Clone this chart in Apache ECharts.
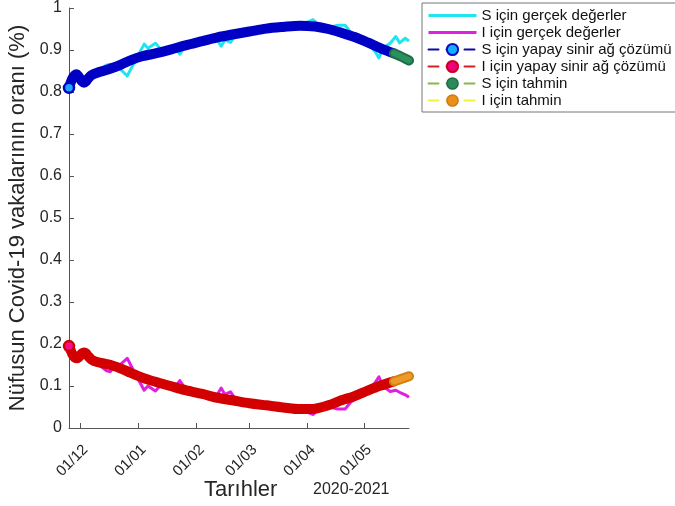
<!DOCTYPE html>
<html><head><meta charset="utf-8">
<script src="https://cdn.jsdelivr.net/npm/echarts@6/dist/echarts.min.js"></script>
<style>html,body{margin:0;padding:0;background:#fff}#c{width:675px;height:506px}</style>
</head><body><div id="c"></div>
<script>
// ---- axis domain (daily dates) ----
const firstDay = '2020-11-25';
const lastDay = '2021-05-25';
const categories = [];
(function () {
  let t = Date.parse(firstDay + 'T00:00:00Z');
  const e = Date.parse(lastDay + 'T00:00:00Z');
  while (t <= e) { categories.push(new Date(t).toISOString().slice(0, 10)); t += 86400000; }
})();

// ---- tick labels ----
const tickDates = ['2020-12-01', '2021-01-01', '2021-02-01', '2021-03-01', '2021-04-01', '2021-05-01'];
const tickLabels = ['01/12', '01/01', '01/02', '01/03', '01/04', '01/05'];
const yTicks = [0, 0.1, 0.2, 0.3, 0.4, 0.5, 0.6, 0.7, 0.8, 0.9, 1];

// ---- real data (S and I) ----
const realDates = ['2020-11-25','2020-11-28','2020-12-01','2020-12-04','2020-12-07','2020-12-10','2020-12-15','2020-12-17','2020-12-19','2020-12-22','2020-12-26','2020-12-29','2021-01-01','2021-01-04','2021-01-06','2021-01-08','2021-01-10','2021-01-13','2021-01-16','2021-01-20','2021-01-23','2021-01-25','2021-01-29','2021-02-03','2021-02-08','2021-02-12','2021-02-14','2021-02-16','2021-02-19','2021-02-22','2021-03-01','2021-03-08','2021-03-15','2021-03-22','2021-03-29','2021-04-04','2021-04-07','2021-04-11','2021-04-17','2021-04-21','2021-04-24','2021-04-28','2021-05-01','2021-05-04','2021-05-07','2021-05-09','2021-05-11','2021-05-15','2021-05-18','2021-05-20','2021-05-23','2021-05-25'];
const sReal = [0.811,0.839,0.830,0.828,0.842,0.850,0.864,0.866,0.856,0.856,0.838,0.864,0.889,0.914,0.904,0.910,0.916,0.901,0.904,0.909,0.890,0.904,0.917,0.922,0.927,0.924,0.909,0.924,0.918,0.938,0.946,0.950,0.954,0.958,0.961,0.972,0.958,0.952,0.959,0.959,0.942,0.932,0.924,0.912,0.896,0.881,0.904,0.916,0.932,0.917,0.928,0.921];
const iReal = [0.193,0.168,0.174,0.176,0.160,0.154,0.136,0.134,0.148,0.150,0.166,0.140,0.115,0.090,0.100,0.094,0.088,0.103,0.100,0.095,0.113,0.100,0.087,0.082,0.077,0.080,0.095,0.080,0.086,0.066,0.058,0.054,0.050,0.046,0.043,0.032,0.046,0.052,0.045,0.045,0.062,0.072,0.080,0.092,0.108,0.122,0.100,0.087,0.090,0.085,0.079,0.073];

// ---- neural network solution ----
const nnDates = ['2020-11-25','2020-11-26','2020-11-27','2020-11-28','2020-11-29','2020-11-30','2020-12-01','2020-12-02','2020-12-03','2020-12-04','2020-12-05','2020-12-07','2020-12-10','2020-12-14','2020-12-18','2020-12-23','2020-12-28','2021-01-03','2021-01-10','2021-01-18','2021-01-26','2021-02-04','2021-02-12','2021-02-20','2021-03-01','2021-03-10','2021-03-19','2021-03-28','2021-04-05','2021-04-12','2021-04-19','2021-04-26','2021-05-03','2021-05-10','2021-05-17'];
const sNN = [0.810,0.824,0.834,0.840,0.842,0.838,0.831,0.825,0.822,0.825,0.831,0.840,0.846,0.851,0.857,0.866,0.876,0.885,0.892,0.901,0.911,0.921,0.930,0.937,0.944,0.951,0.955,0.958,0.956,0.950,0.941,0.931,0.918,0.904,0.892];
const iNN = [0.195,0.184,0.174,0.168,0.166,0.168,0.173,0.178,0.180,0.178,0.172,0.163,0.157,0.153,0.149,0.141,0.131,0.120,0.110,0.100,0.090,0.081,0.072,0.066,0.059,0.054,0.049,0.045,0.046,0.054,0.066,0.076,0.089,0.101,0.111];

// ---- prediction ----
const predDates = ['2021-05-17','2021-05-21','2021-05-25'];
const sPred = [0.892,0.884,0.875];
const iPred = [0.111,0.117,0.123];

const names = ['S için gerçek değerler','I için gerçek değerler','S için yapay sinir ağ çözümü','I için yapay sinir ağ çözümü','S için tahmin','I için tahmin'];

function pair(d, v) { return d.map((x, i) => [x, v[i]]); }
const FONT = "'Liberation Sans', Arial, Helvetica, sans-serif";
const showTick = (idx, val) => tickDates.indexOf(val) >= 0;

function band(name, dates, vals, color, w, z, startMark) {
  const data = pair(dates, vals);
  if (startMark) {
    data[0] = { value: data[0], symbolSize: 10, itemStyle: startMark };
  }
  return { name, type: 'line', data, symbol: 'circle', symbolSize: 0, showSymbol: !!startMark, showAllSymbol: true,
    smooth: 0.3, z,
    lineStyle: { color, width: w, cap: 'round', join: 'round' }, itemStyle: { color, borderWidth: 0 }, emphasis: { disabled: true }, silent: true };
}

const chart = echarts.init(document.getElementById('c'), null, { renderer: 'canvas' });
chart.setOption({
  animation: false,
  backgroundColor: '#fff',
  grid: { left: 69, right: 266, top: 8, bottom: 78, containLabel: false, outerBoundsMode: 'none' },
  xAxis: {
    type: 'category', data: categories, boundaryGap: false,
    axisLine: { lineStyle: { color: '#555', width: 1 } },
    axisTick: { inside: true, length: 5, interval: showTick, lineStyle: { color: '#555' } },
    axisLabel: { interval: showTick, rotate: 45, margin: 14, align: 'right', verticalAlign: 'top', fontSize: 15, fontFamily: FONT, color: '#262626',
      formatter: v => tickLabels[tickDates.indexOf(v)] },
    splitLine: { show: false }
  },
  yAxis: {
    type: 'value', min: yTicks[0], max: yTicks[yTicks.length - 1], interval: 0.1,
    name: 'Nüfusun Covid-19 vakalarının oranı (%)', nameLocation: 'middle', nameGap: 32, nameRotate: 90,
    nameTextStyle: { fontSize: 22, fontFamily: FONT, color: '#262626' },
    axisLine: { show: true, lineStyle: { color: '#555', width: 1 } },
    axisTick: { show: true, inside: true, length: 5, lineStyle: { color: '#555' } },
    axisLabel: { fontSize: 16, fontFamily: FONT, color: '#262626', margin: 7 },
    splitLine: { show: false }
  },
  legend: {
    orient: 'vertical', left: 422, top: 3, itemWidth: 48, itemHeight: 14, itemGap: 2,
    padding: [5, 8, 4, 5], backgroundColor: '#fff', borderColor: '#777', borderWidth: 1, borderRadius: 0,
    selectedMode: false,
    textStyle: { fontSize: 15, fontFamily: FONT, color: '#111' },
    data: [
      { name: names[0], lineStyle: { color: '#22e4f0', width: 3, type: 'solid' }, itemStyle: { color: 'rgba(0,0,0,0)', borderWidth: 0, opacity: 0 } },
      { name: names[1], lineStyle: { color: '#e020e0', width: 3, type: 'solid' }, itemStyle: { color: 'rgba(0,0,0,0)', borderWidth: 0, opacity: 0 } },
      { name: names[2], lineStyle: { color: '#0a0aa8', width: 2, type: [10, 8] }, itemStyle: { color: '#10b0ff', borderColor: '#0a0ac0', borderWidth: 2 } },
      { name: names[3], lineStyle: { color: '#d82020', width: 2, type: [10, 8] }, itemStyle: { color: '#f0007a', borderColor: '#c80020', borderWidth: 2 } },
      { name: names[4], lineStyle: { color: '#88b848', width: 2, type: [10, 8] }, itemStyle: { color: '#2a8a5a', borderColor: '#1e6e46', borderWidth: 1.5 } },
      { name: names[5], lineStyle: { color: '#f4f040', width: 2, type: [10, 8] }, itemStyle: { color: '#e8901e', borderColor: '#d07a10', borderWidth: 1.5 } }
    ]
  },
  graphic: [
    { type: 'text', left: 204, top: 479, style: { text: 'Tarıhler', font: '22px ' + FONT, fill: '#262626' } },
    { type: 'text', left: 313, top: 482, style: { text: '2020-2021', font: '16px ' + FONT, fill: '#262626' } }
  ],
  series: [
    { name: names[0], type: 'line', data: pair(realDates, sReal), symbol: 'none', z: 2, silent: true,
      lineStyle: { color: '#22e4f0', width: 3, join: 'round' }, itemStyle: { color: '#22e4f0' } },
    { name: names[1], type: 'line', data: pair(realDates, iReal), symbol: 'none', z: 2, silent: true,
      lineStyle: { color: '#e020e0', width: 3, join: 'round' }, itemStyle: { color: '#e020e0' } },
    band(names[2], nnDates, sNN, '#0000c4', 10, 3, { color: '#1aa8ff', borderColor: '#0000c4', borderWidth: 2.5 }),
    band(names[3], nnDates, iNN, '#d20000', 10, 3, { color: '#f0108a', borderColor: '#d20000', borderWidth: 2.5 }),
    band(names[4], predDates, sPred, '#1c6e48', 10, 4),
    band('S tahmin iç', predDates, sPred, '#2c8f5e', 6, 5),
    band(names[5], predDates, iPred, '#d2800e', 10, 4),
    band('I tahmin iç', predDates, iPred, '#ee9a2a', 6, 5)
  ]
});
</script>
</body></html>
